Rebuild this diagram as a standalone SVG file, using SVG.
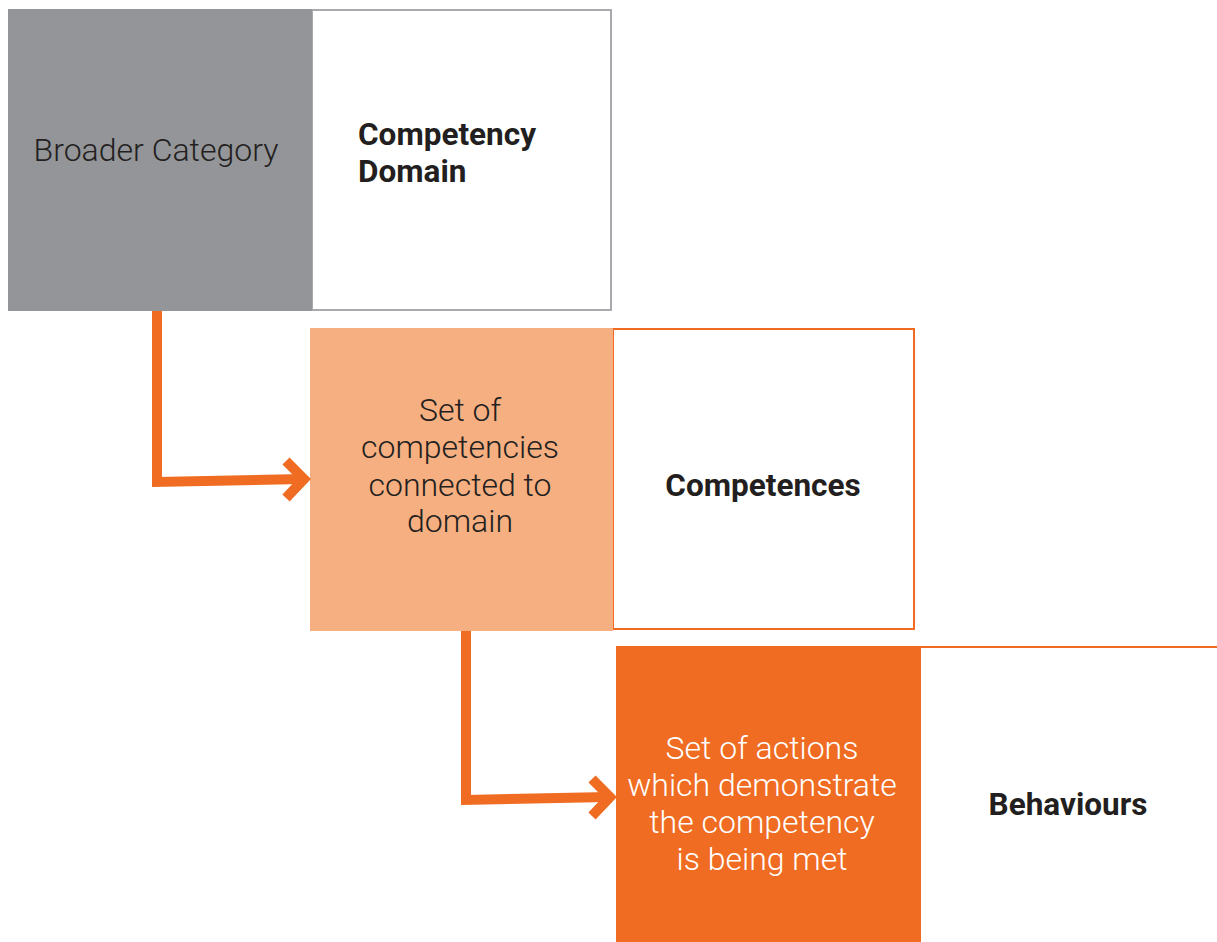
<svg xmlns="http://www.w3.org/2000/svg" width="1217" height="942" viewBox="0 0 1217 942">
  <style>
    .lt { font-family: Roboto, "Liberation Sans", sans-serif; font-weight: 300; font-size: 32px; fill: #231f20; text-anchor: middle; }
    .bd { font-family: Roboto, "Liberation Sans", sans-serif; font-weight: 700; font-size: 31.5px; fill: #231f20; }
    .wt { fill: #ffffff; }
    .conn { fill: none; stroke: #ef6c22; stroke-width: 10; stroke-linejoin: miter; }
  </style>
  <rect width="1217" height="942" fill="#ffffff"/>
  <g id="node-domain">
    <rect x="312" y="10" width="299" height="300" fill="#ffffff" stroke="#a7a9ac" stroke-width="2"/>
    <rect x="8" y="9" width="304" height="302" fill="#939598"/>
    <text class="lt" x="156" y="161">Broader Category</text>
    <text class="bd" x="358" y="145">Competency</text>
    <text class="bd" x="358" y="182">Domain</text>
  </g>
  <g id="node-competences">
    <rect x="613" y="329" width="301" height="300" fill="#ffffff" stroke="#ef6c22" stroke-width="2"/>
    <rect x="310" y="328" width="303" height="303" fill="#f6af80"/>
    <text class="lt" x="460" y="421">Set of</text>
    <text class="lt" x="460" y="458">competencies</text>
    <text class="lt" x="460" y="496">connected to</text>
    <text class="lt" x="460" y="532">domain</text>
    <text class="bd" x="763" y="496" text-anchor="middle">Competences</text>
  </g>
  <g id="node-behaviours">
    <rect x="920" y="647" width="320" height="320" fill="#ffffff" stroke="#ef6c22" stroke-width="2"/>
    <rect x="616" y="646" width="304" height="296" fill="#ef6c22"/>
    <text class="lt wt" x="762" y="759">Set of actions</text>
    <text class="lt wt" x="762" y="796">which demonstrate</text>
    <text class="lt wt" x="762" y="833">the competency</text>
    <text class="lt wt" x="762" y="870">is being met</text>
    <text class="bd" x="1068" y="815" text-anchor="middle">Behaviours</text>
  </g>
  <g id="connectors">
    <path class="conn" d="M157 311 V482 L303 479"/>
    <path class="conn" d="M286 461 L304 479 L286 498"/>
    <path class="conn" d="M466 631 V800 L608 797"/>
    <path class="conn" d="M592 779 L610 797 L592 816"/>
  </g>
</svg>
